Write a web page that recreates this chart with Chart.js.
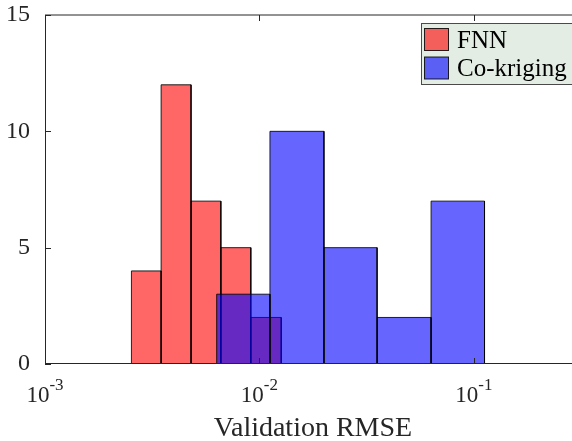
<!DOCTYPE html>
<html>
<head>
<meta charset="utf-8">
<script src="https://cdn.jsdelivr.net/npm/chart.js@4.4.1/dist/chart.umd.min.js"></script>
<style>
  html, body { margin: 0; padding: 0; background: #fff; overflow: hidden; }
  #wrap { width: 600px; height: 441px; }
</style>
</head>
<body>
<div id="wrap"><canvas id="histChart"></canvas></div>
<script>
'use strict';

// --- data ---
const FNN_EDGES = [0.00253, 0.00348, 0.00480, 0.00661, 0.00912, 0.01264];
const FNN_COUNTS = [4, 12, 7, 5, 2];
const CK_EDGES = [0.00632, 0.01120, 0.0200, 0.0354, 0.0632, 0.1122];
const CK_COUNTS = [3, 10, 5, 2, 7];
const X_TICKS = [1e-3, 1e-2, 1e-1];
const X_TICK_EXP = ['-3', '-2', '-1'];
const Y_TICKS = [0, 5, 10, 15];
const SERIES = ['FNN', 'Co-kriging'];

const RED = 'rgba(255,0,0,0.6)';
const BLUE = 'rgba(0,0,255,0.6)';
const AX = '#262626';
const SERIF = '"Liberation Serif", "Times New Roman", serif';

// one closed outline per histogram bin
function binSets(edges, counts, fill, order) {
  return counts.map((c, i) => ({
    label: '',
    data: [
      { x: edges[i], y: 0 },
      { x: edges[i], y: c },
      { x: edges[i + 1], y: c },
      { x: edges[i + 1], y: 0 },
    ],
    backgroundColor: fill,
    borderColor: 'rgba(0,0,0,0.85)',
    borderWidth: 1,
    fill: 'origin',
    tension: 0,
    pointRadius: 0,
    order: order,
  }));
}

const frame = {
  id: 'frame',
  afterDatasetsDraw(chart) {
    const { ctx, chartArea: a, scales } = chart;
    const xs = scales.x, ys = scales.y;
    ctx.save();
    ctx.strokeStyle = AX;
    ctx.lineWidth = 1;
    ctx.beginPath();
    ctx.moveTo(a.left + 0.5, a.top);
    ctx.lineTo(a.left + 0.5, a.bottom);
    ctx.moveTo(a.left, a.bottom - 0.5);
    ctx.lineTo(a.right, a.bottom - 0.5);
    ctx.moveTo(a.left, a.top);
    ctx.lineTo(a.right, a.top);
    ctx.moveTo(a.right - 0.5, a.top);
    ctx.lineTo(a.right - 0.5, a.bottom);
    // inward ticks
    X_TICKS.forEach(v => {
      const px = Math.round(xs.getPixelForValue(v)) + 0.5;
      ctx.moveTo(px, a.bottom);
      ctx.lineTo(px, a.bottom - 6);
      ctx.moveTo(px, a.top);
      ctx.lineTo(px, a.top + 6);
    });
    Y_TICKS.forEach(v => {
      const py = Math.round(ys.getPixelForValue(v)) + 0.5;
      ctx.moveTo(a.left, py);
      ctx.lineTo(a.left + 6, py);
    });
    ctx.stroke();

    // x tick labels 10^n
    ctx.fillStyle = AX;
    ctx.textBaseline = 'alphabetic';
    ctx.textAlign = 'left';
    X_TICKS.forEach((v, i) => {
      const px = xs.getPixelForValue(v);
      ctx.font = '23px ' + SERIF;
      const wb = ctx.measureText('10').width;
      ctx.font = '17px ' + SERIF;
      const we = ctx.measureText(X_TICK_EXP[i]).width;
      const x0 = px - (wb + we) / 2;
      ctx.font = '23px ' + SERIF;
      ctx.fillText('10', x0, a.bottom + 38);
      ctx.font = '17px ' + SERIF;
      ctx.fillText(X_TICK_EXP[i], x0 + wb, a.bottom + 26);
    });

    // x title
    ctx.font = '28px ' + SERIF;
    ctx.textAlign = 'center';
    ctx.fillText('Validation RMSE', (a.left + a.right) / 2, a.bottom + 72);

    // legend
    const lx = 421, ly = 23, lw = 158, lh = 61;
    ctx.fillStyle = 'rgb(227,237,227)';
    ctx.fillRect(lx, ly, lw, lh);
    ctx.strokeStyle = '#4a4a4a';
    ctx.strokeRect(lx + 0.5, ly + 0.5, lw, lh);
    [RED, BLUE].forEach((c, i) => {
      const sy = 28.5 + i * 28.5;
      ctx.fillStyle = c;
      ctx.fillRect(424.5, sy, 24, 22);
      ctx.strokeStyle = 'rgba(0,0,0,0.85)';
      ctx.strokeRect(424.5, sy, 24, 22);
      ctx.fillStyle = '#000';
      ctx.font = '25px ' + SERIF;
      ctx.textAlign = 'left';
      ctx.fillText(SERIES[i], 457, sy + 19);
    });
    ctx.restore();
  },
};

const canvas = document.getElementById('histChart');
new Chart(canvas.getContext('2d'), {
  type: 'line',
  data: {
    datasets: [
      ...binSets(FNN_EDGES, FNN_COUNTS, RED, 2),
      ...binSets(CK_EDGES, CK_COUNTS, BLUE, 1),
    ],
  },
  options: {
    responsive: true,
    maintainAspectRatio: false,
    animation: false,
    events: [],
    layout: { padding: { left: 0, top: 15, right: 19, bottom: 77 } },
    plugins: { legend: { display: false }, tooltip: { enabled: false } },
    scales: {
      x: {
        type: 'logarithmic',
        min: 1e-3,
        max: Math.pow(10, -0.5),
        display: false,
      },
      y: {
        min: 0,
        max: 15,
        grid: { display: false },
        border: { display: false },
        afterFit: s => {
          s.width = 45;
          s.paddingTop = 0;
          s.paddingBottom = 0;
        },
        afterBuildTicks: s => { s.ticks = Y_TICKS.map(v => ({ value: v })); },
        ticks: {
          color: AX,
          padding: 7,
          font: { family: SERIF, size: 24, lineHeight: 1 },
        },
      },
    },
  },
  plugins: [frame],
});
</script>
</body>
</html>
